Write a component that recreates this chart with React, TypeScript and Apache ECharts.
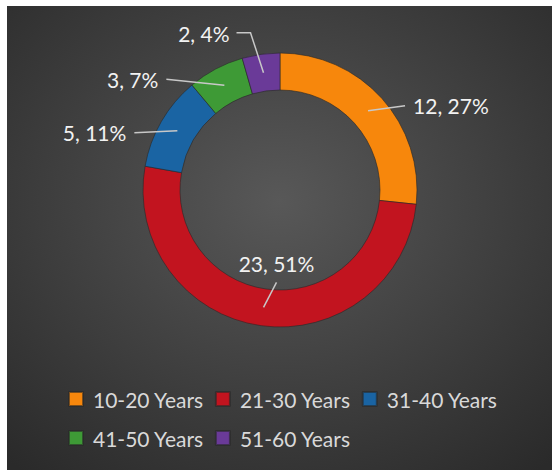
import React, { useEffect, useRef } from "react";
import * as echarts from "echarts";

const categories = ["10-20 Years", "21-30 Years", "31-40 Years", "41-50 Years", "51-60 Years"];
const counts = [12, 23, 5, 3, 2];
const colors = ["#f7870c", "#c2141f", "#1a64a3", "#3e9a36", "#6a3a98"];

// label leader-line offsets (turn point relative to ring mid-point, then final tail)
const lineTurn: number[][] = [[37, -5], [13, -25], [-43, 2], [-58, -6], [-13, -40]];
const lineTail: number[][] = [[0, 0], [0, 0], [0, 0], [0, 0], [-14, 0]];
const labelShift: number[][] = [[8, 0], [0, -19], [-8, 0], [-8, 0], [-7, 1]];
const labelAlign = ["left", "center", "right", "right", "right"];

const CX = 273;
const CY = 184;
const R_IN = 100;
const R_OUT = 137;

export default function App() {
  const ref = useRef<HTMLDivElement>(null);
  useEffect(() => {
    document.body.style.margin = "0";
    const chart = echarts.init(ref.current!, undefined, { renderer: "svg" });
    const total = counts.reduce((a, b) => a + b, 0);
    const midAngles: number[] = [];
    let cum = 0;
    counts.forEach((v) => {
      midAngles.push(((cum + v / 2) / total) * Math.PI * 2);
      cum += v;
    });
    const rMid = (R_IN + R_OUT) / 2;
    const pieData = categories.map((name, i) => ({ name, value: counts[i] }));
    chart.setOption({
      animation: false,
      backgroundColor: new echarts.graphic.RadialGradient(0.5, 0.42, 0.75, [
        { offset: 0, color: "#585858" },
        { offset: 1, color: "#2a2a2a" },
      ]),
      color: colors,
      legend: {
        left: 61,
        top: 379,
        width: 470,
        padding: 0,
        itemWidth: 14,
        itemHeight: 14,
        itemGap: 11,
        icon: "rect",
        data: categories.map((name, i) => ({ name, itemStyle: { color: colors[i] } })),
        textStyle: {
          color: "#d9d9d9",
          fontSize: 21,
          fontFamily: "Lato",
          lineHeight: 28,
          padding: [0, 0, 0, 5],
        },
      },
      series: [
        {
          type: "pie",
          z: 2,
          center: [CX, CY],
          radius: [R_IN, R_OUT],
          startAngle: 90,
          clockwise: true,
          itemStyle: { borderColor: "rgba(40,40,40,0.6)", borderWidth: 1 },
          label: { show: false },
          labelLine: { show: false },
          data: pieData,
        },
        {
          type: "pie",
          z: 4,
          silent: true,
          center: [CX, CY],
          radius: [R_IN, R_OUT],
          startAngle: 90,
          clockwise: true,
          percentPrecision: 0,
          itemStyle: { color: "rgba(0,0,0,0)", borderWidth: 0 },
          label: {
            show: true,
            position: "outside",
            formatter: "{c}, {d}%",
            color: "#f2f2f2",
            fontSize: 21,
            fontFamily: "Lato",
          },
          labelLine: { show: true, lineStyle: { color: "#c8c8c8", width: 1.5 } },
          labelLayout: (params: any) => {
            const i = params.dataIndex;
            const a = midAngles[i];
            const sx = CX + rMid * Math.sin(a);
            const sy = CY - rMid * Math.cos(a);
            const tx = sx + lineTurn[i][0];
            const ty = sy + lineTurn[i][1];
            const ex = tx + lineTail[i][0];
            const ey = ty + lineTail[i][1];
            return {
              x: ex + labelShift[i][0],
              y: ey + labelShift[i][1],
              align: labelAlign[i],
              verticalAlign: "middle",
              labelLinePoints: [
                [sx, sy],
                [tx, ty],
                [ex, ey],
              ],
            };
          },
          data: pieData,
        },
      ],
    });
    return () => chart.dispose();
  }, []);
  return (
    <div style={{ position: "relative", width: 552, height: 472, background: "#ffffff" }}>
      <div ref={ref} style={{ position: "absolute", left: 7, top: 6, width: 545, height: 464 }} />
    </div>
  );
}
